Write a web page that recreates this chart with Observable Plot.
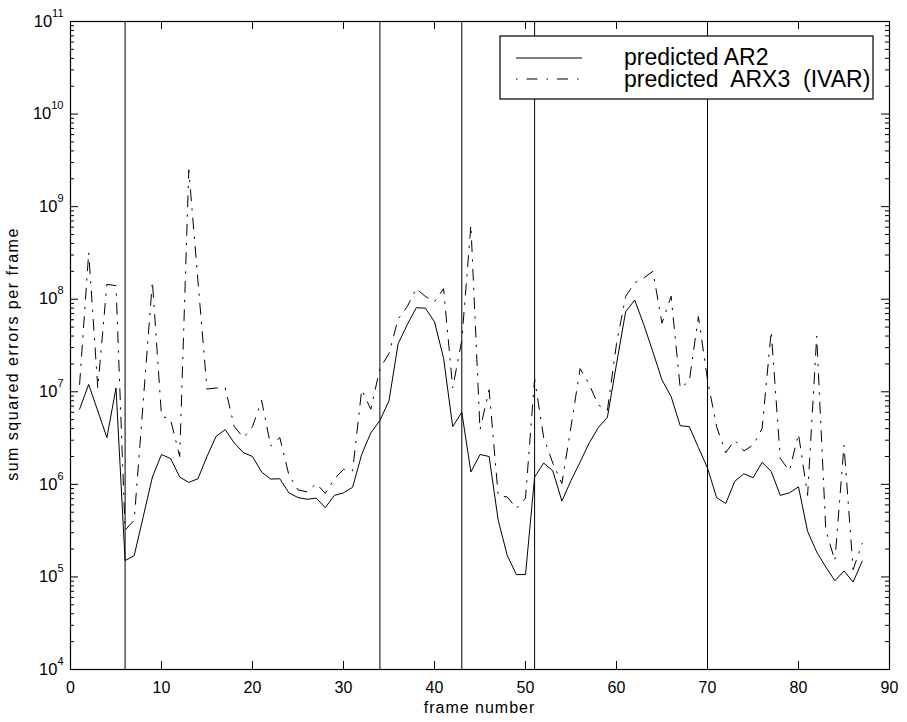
<!DOCTYPE html>
<html>
<head>
<meta charset="utf-8">
<script src="https://cdn.jsdelivr.net/npm/d3@7"></script>
<script src="https://cdn.jsdelivr.net/npm/@observablehq/plot@0.6"></script>
<style>
  html, body { margin: 0; padding: 0; background: white; }
  svg { display: block; }
</style>
</head>
<body>
<div id="chart"></div>
<script>
// ---- data ----
const frames = [1,2,3,4,5,6,7,8,9,10,11,12,13,14,15,16,17,18,19,20,21,22,23,24,25,26,27,28,29,30,
  31,32,33,34,35,36,37,38,39,40,41,42,43,44,45,46,47,48,49,50,51,52,53,54,55,56,57,58,59,60,
  61,62,63,64,65,66,67,68,69,70,71,72,73,74,75,76,77,78,79,80,81,82,83,84,85,86,87];

const predictedAR2 = [6.5e6,1.2e7,6.2e6,3.2e6,1.1e7,1.5e5,1.7e5,4.5e5,1.2e6,2.1e6,
  1.9e6,1.2e6,1.05e6,1.15e6,2.0e6,3.3e6,3.9e6,2.8e6,2.2e6,2.0e6,
  1.36e6,1.14e6,1.15e6,8.1e5,7.2e5,6.9e5,7.1e5,5.6e5,7.6e5,8.1e5,
  9.3e5,2.1e6,3.6e6,4.9e6,8.0e6,3.3e7,5.3e7,8.1e7,8.0e7,5.7e7,
  2.3e7,4.2e6,6.0e6,1.36e6,2.1e6,2.0e6,4.1e5,1.7e5,1.06e5,1.06e5,
  1.2e6,1.7e6,1.4e6,6.6e5,1.1e6,1.74e6,2.8e6,4.1e6,5.3e6,2.0e7,
  7.3e7,9.8e7,5.3e7,2.7e7,1.34e7,8.9e6,4.3e6,4.2e6,2.5e6,1.5e6,
  7.2e5,6.2e5,1.08e6,1.3e6,1.18e6,1.73e6,1.38e6,7.6e5,8.1e5,9.4e5,
  3.1e5,1.86e5,1.28e5,9.1e4,1.16e5,8.8e4,1.48e5];

const predictedARX3 = [1.2e7,3.2e8,1.1e7,1.45e8,1.4e8,3.2e5,4.1e5,8.0e6,1.55e8,5.5e6,
  5.0e6,2.0e6,2.5e9,1.6e8,1.07e7,1.1e7,1.1e7,4.2e6,3.2e6,4.2e6,
  8.1e6,2.6e6,3.2e6,1.26e6,8.7e5,8.3e5,1.02e6,8.0e5,1.15e6,1.45e6,
  1.4e6,1.05e7,6.5e6,1.78e7,2.6e7,6.1e7,8.3e7,1.3e8,1.07e8,9.4e7,
  1.3e8,1.1e7,3.6e7,6.3e8,3.9e6,1.05e7,7.6e5,7.3e5,5.5e5,7.1e5,
  1.38e7,3.2e6,1.7e6,1.02e6,4.2e6,1.78e7,1.2e7,7.2e6,6.3e6,3.3e7,
  1.07e8,1.5e8,1.7e8,2.0e8,5.5e7,1.08e8,1.1e7,1.3e7,6.5e7,1.35e7,
  4.2e6,2.2e6,3.0e6,2.3e6,2.65e6,4.0e6,4.5e7,1.9e6,1.4e6,3.5e6,
  7.6e5,4.0e7,3.2e5,1.5e5,2.65e6,1.2e5,2.3e5];

const boundaries = [6, 34, 43, 51, 70];

const xTicks = [0,10,20,30,40,50,60,70,80,90];
const yMajor = [1e4,1e5,1e6,1e7,1e8,1e9,1e10,1e11];
const yExps  = ["4","5","6","7","8","9","10","11"];
const yMinor = [2e4,3e4,4e4,5e4,6e4,7e4,8e4,9e4,
  2e5,3e5,4e5,5e5,6e5,7e5,8e5,9e5,
  2e6,3e6,4e6,5e6,6e6,7e6,8e6,9e6,
  2e7,3e7,4e7,5e7,6e7,7e7,8e7,9e7,
  2e8,3e8,4e8,5e8,6e8,7e8,8e8,9e8,
  2e9,3e9,4e9,5e9,6e9,7e9,8e9,9e9,
  2e10,3e10,4e10,5e10,6e10,7e10,8e10,9e10];

const seriesNames = ["predicted AR2", "predicted  ARX3  (IVAR)"];
const xLabel = "frame number";
const yLabel = "sum squared errors per frame";

const ar2 = frames.map((f, i) => ({frame: f, value: predictedAR2[i]}));
const arx3 = frames.map((f, i) => ({frame: f, value: predictedARX3[i]}));

// ---- layout ----
const W = 907, H = 722;
const mL = 70, mR = 18, mT = 21, mB = 53;
const pW = W - mL - mR, pH = H - mT - mB;
const majorLen = 8, minorLen = 4;
const dashDot = "11,8,1.5,8";
const font = "'Liberation Sans', Arial, Helvetica, sans-serif";

const svg = Plot.plot({
  width: W, height: H,
  marginLeft: mL, marginRight: mR, marginTop: mT, marginBottom: mB,
  style: {fontFamily: font, fontSize: "16px", background: "white", color: "black"},
  x: {domain: [0, 90], label: null},
  y: {type: "log", domain: [1e4, 1e11], label: null},
  marks: [
    Plot.axisX(xTicks, {tickSize: 0, tickPadding: 12, fontSize: 16, label: null, tickFormat: d => String(d)}),
    Plot.axisY(yMajor, {tickSize: 0, tickPadding: 7, fontSize: 16.5, label: null,
      tickFormat: (d, i) => "10^" + yExps[yMajor.indexOf(d)]}),
    // inward ticks
    Plot.tickX(xTicks, {x: d => d, insetTop: pH - majorLen, stroke: "black"}),
    Plot.tickX(xTicks, {x: d => d, insetBottom: pH - majorLen, stroke: "black"}),
    Plot.tickY(yMajor, {y: d => d, insetRight: pW - majorLen, stroke: "black"}),
    Plot.tickY(yMajor, {y: d => d, insetLeft: pW - majorLen, stroke: "black"}),
    Plot.tickY(yMinor, {y: d => d, insetRight: pW - minorLen, stroke: "black"}),
    Plot.tickY(yMinor, {y: d => d, insetLeft: pW - minorLen, stroke: "black"}),
    Plot.ruleX(boundaries, {x: d => d, stroke: "black", strokeWidth: 1}),
    Plot.line(ar2, {x: "frame", y: "value", stroke: "black", strokeWidth: 1}),
    Plot.line(arx3, {x: "frame", y: "value", stroke: "black", strokeWidth: 1, strokeDasharray: dashDot}),
    Plot.frame({stroke: "black", strokeWidth: 1.2})
  ]
});

document.getElementById("chart").appendChild(svg);
const s = d3.select(svg);

// superscript exponents on y tick labels
s.selectAll('g[aria-label="y-axis tick label"] text').each(function() {
  const parts = this.textContent.split("^");
  const t = d3.select(this);
  t.text(null);
  t.append("tspan").text(parts[0]);
  t.append("tspan").attr("dy", -10).attr("font-size", "11px").text(parts[1]);
});

// axis titles
s.append("text")
  .attr("x", mL + pW / 2).attr("y", 713)
  .attr("text-anchor", "middle")
  .attr("font-family", font).attr("font-size", 16).attr("letter-spacing", 1)
  .attr("fill", "black")
  .text(xLabel);

s.append("text")
  .attr("transform", `translate(18,354) rotate(-90)`)
  .attr("text-anchor", "middle")
  .attr("font-family", font).attr("font-size", 16).attr("letter-spacing", 1.5)
  .attr("fill", "black")
  .text(yLabel);

// legend
const lg = s.append("g").attr("font-family", font).attr("font-size", 23).attr("text-anchor", "start");
lg.append("rect").attr("x", 500).attr("y", 36).attr("width", 373).attr("height", 63)
  .attr("fill", "white").attr("stroke", "black").attr("stroke-width", 1.2);
lg.append("line").attr("x1", 516).attr("x2", 582).attr("y1", 58).attr("y2", 58)
  .attr("stroke", "black").attr("stroke-width", 1);
lg.append("line").attr("x1", 516).attr("x2", 582).attr("y1", 79).attr("y2", 79)
  .attr("stroke", "black").attr("stroke-width", 1).attr("stroke-dasharray", "1.5,9,11,9");
lg.append("text").attr("x", 624).attr("y", 65).attr("fill", "black").attr("text-anchor", "start")
  .style("white-space", "pre").text(seriesNames[0]);
lg.append("text").attr("x", 624).attr("y", 87).attr("fill", "black").attr("text-anchor", "start")
  .style("white-space", "pre").text(seriesNames[1]);
</script>
</body>
</html>
